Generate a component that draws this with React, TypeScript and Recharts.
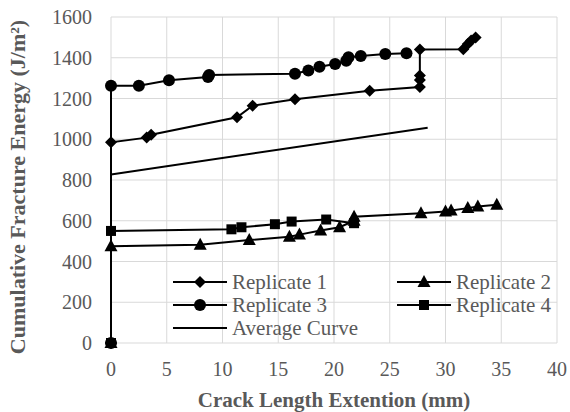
import React from "react";
import { LineChart, Line, XAxis, YAxis, CartesianGrid, Label } from "recharts";

type Pt = { x: number; y: number };

const rep1: Pt[] = [
  { x: 0, y: 0 }, { x: 0, y: 985 }, { x: 3.2, y: 1008 }, { x: 3.6, y: 1022 },
  { x: 11.3, y: 1108 }, { x: 12.7, y: 1165 }, { x: 16.5, y: 1196 },
  { x: 23.2, y: 1238 }, { x: 27.7, y: 1256 }, { x: 27.7, y: 1291 },
  { x: 27.7, y: 1313 }, { x: 27.7, y: 1440 }, { x: 31.6, y: 1442 },
  { x: 32.0, y: 1468 }, { x: 32.3, y: 1485 }, { x: 32.7, y: 1500 },
];
const rep2: Pt[] = [
  { x: 0, y: 0 }, { x: 0, y: 475 }, { x: 8.0, y: 482 }, { x: 12.4, y: 505 },
  { x: 16.0, y: 522 }, { x: 16.9, y: 532 }, { x: 18.8, y: 552 },
  { x: 20.5, y: 568 }, { x: 21.8, y: 600 }, { x: 21.8, y: 620 },
  { x: 27.8, y: 637 }, { x: 30.0, y: 645 }, { x: 30.5, y: 650 },
  { x: 32.0, y: 662 }, { x: 32.9, y: 670 }, { x: 34.6, y: 678 },
];
const rep3: Pt[] = [
  { x: 0, y: 0 }, { x: 0, y: 1263 }, { x: 2.5, y: 1263 }, { x: 5.2, y: 1290 },
  { x: 8.7, y: 1305 }, { x: 8.8, y: 1315 }, { x: 16.5, y: 1322 },
  { x: 17.7, y: 1337 }, { x: 18.7, y: 1356 }, { x: 20.1, y: 1369 },
  { x: 21.1, y: 1385 }, { x: 21.3, y: 1403 }, { x: 22.4, y: 1409 },
  { x: 24.6, y: 1418 }, { x: 26.5, y: 1422 },
];
const rep4: Pt[] = [
  { x: 0, y: 0 }, { x: 0, y: 550 }, { x: 10.8, y: 558 }, { x: 11.7, y: 568 },
  { x: 14.7, y: 583 }, { x: 16.2, y: 596 }, { x: 19.3, y: 606 }, { x: 21.8, y: 588 },
];
const avgCurve: Pt[] = [
  { x: 0, y: 827 }, { x: 28.4, y: 1057 },
];

const xTicks = [0, 5, 10, 15, 20, 25, 30, 35, 40];
const yTicks = [0, 200, 400, 600, 800, 1000, 1200, 1400, 1600];

const seriesNames = ["Replicate 1", "Replicate 2", "Replicate 3", "Replicate 4", "Average Curve"];

const FONT = '"Liberation Serif", "Times New Roman", serif';
const GRAY = "#595959";

type Shape = "diamond" | "triangle" | "circle" | "square" | "none";

function Marker({ cx, cy, shape }: { cx: number; cy: number; shape: Shape }) {
  if (cx == null || cy == null || isNaN(cx) || isNaN(cy)) return null;
  if (shape === "diamond") {
    const r = 6;
    return <path d={`M${cx},${cy - r}L${cx + r},${cy}L${cx},${cy + r}L${cx - r},${cy}Z`} fill="#000" />;
  }
  if (shape === "triangle") {
    return <path d={`M${cx},${cy - 7}L${cx + 6.5},${cy + 5}L${cx - 6.5},${cy + 5}Z`} fill="#000" />;
  }
  if (shape === "circle") {
    return <circle cx={cx} cy={cy} r={6} fill="#000" />;
  }
  if (shape === "square") {
    return <rect x={cx - 5} y={cy - 5} width={10} height={10} fill="#000" />;
  }
  return null;
}

const makeDot = (shape: Shape) => (props: any) => (
  <Marker key={`${shape}-${props.index}`} cx={props.cx} cy={props.cy} shape={shape} />
);

function LegendIcon({ shape }: { shape: Shape }) {
  return (
    <svg width={54} height={16} style={{ display: "block" }}>
      <line x1={0} y1={8} x2={54} y2={8} stroke="#000" strokeWidth={2} />
      <Marker cx={27} cy={8} shape={shape} />
    </svg>
  );
}

const legendItems: { name: string; shape: Shape; left: number; top: number }[] = [
  { name: seriesNames[0], shape: "diamond", left: 173, top: 282 },
  { name: seriesNames[1], shape: "triangle", left: 397, top: 282 },
  { name: seriesNames[2], shape: "circle", left: 173, top: 305 },
  { name: seriesNames[3], shape: "square", left: 397, top: 305 },
  { name: seriesNames[4], shape: "none", left: 173, top: 328 },
];

function LegendOverlay() {
  return (
    <div style={{ position: "absolute", left: 0, top: 0, width: 570, height: 412, pointerEvents: "none" }}>
      {legendItems.map((it) => (
        <div
          key={it.name}
          style={{
            position: "absolute",
            left: it.left,
            top: it.top - 12,
            height: 24,
            display: "flex",
            alignItems: "center",
            fontFamily: FONT,
            fontSize: 21,
            color: GRAY,
            whiteSpace: "nowrap",
          }}
        >
          <LegendIcon shape={it.shape} />
          <span style={{ marginLeft: 5 }}>{it.name}</span>
        </div>
      ))}
    </div>
  );
}

export default function App() {
  return (
    <div style={{ position: "absolute", left: 0, top: 0, width: 570, height: 412, background: "#fff" }}>
      <LineChart width={570} height={412} margin={{ top: 17, right: 13, left: 0, bottom: 0 }}>
        <CartesianGrid stroke="#d9d9d9" strokeWidth={1} />
        <XAxis
          type="number"
          dataKey="x"
          domain={[0, 40]}
          ticks={xTicks}
          interval={0}
          axisLine={false}
          tickLine={false}
          tickSize={0}
          tickMargin={19}
          height={69}
          tick={{ fill: GRAY, fontSize: 20, fontFamily: FONT }}
        >
          <Label
            content={() => (
              <text x={334} y={407} textAnchor="middle" fill={GRAY} fontFamily={FONT} fontSize={21} fontWeight="bold">
                Crack Length Extention (mm)
              </text>
            )}
          />
        </XAxis>
        <YAxis
          type="number"
          dataKey="y"
          domain={[0, 1600]}
          ticks={yTicks}
          interval={0}
          axisLine={false}
          tickLine={false}
          tickSize={0}
          tickMargin={19}
          width={111}
          tick={{ fill: GRAY, fontSize: 20, fontFamily: FONT }}
        >
          <Label
            content={() => (
              <text
                x={25}
                y={187}
                textAnchor="middle"
                transform="rotate(-90, 25, 187)"
                fill={GRAY}
                fontFamily={FONT}
                fontSize={22}
                fontWeight="bold"
              >
                Cumulative Fracture Energy (J/m²)
              </text>
            )}
          />
        </YAxis>
        <Line data={avgCurve} dataKey="y" name={seriesNames[4]} stroke="#000" strokeWidth={2} dot={false} isAnimationActive={false} />
        <Line data={rep4} dataKey="y" name={seriesNames[3]} stroke="#000" strokeWidth={2} dot={makeDot("square")} isAnimationActive={false} />
        <Line data={rep2} dataKey="y" name={seriesNames[1]} stroke="#000" strokeWidth={2} dot={makeDot("triangle")} isAnimationActive={false} />
        <Line data={rep1} dataKey="y" name={seriesNames[0]} stroke="#000" strokeWidth={2} dot={makeDot("diamond")} isAnimationActive={false} />
        <Line data={rep3} dataKey="y" name={seriesNames[2]} stroke="#000" strokeWidth={2} dot={makeDot("circle")} isAnimationActive={false} />
      </LineChart>
      <LegendOverlay />
    </div>
  );
}
